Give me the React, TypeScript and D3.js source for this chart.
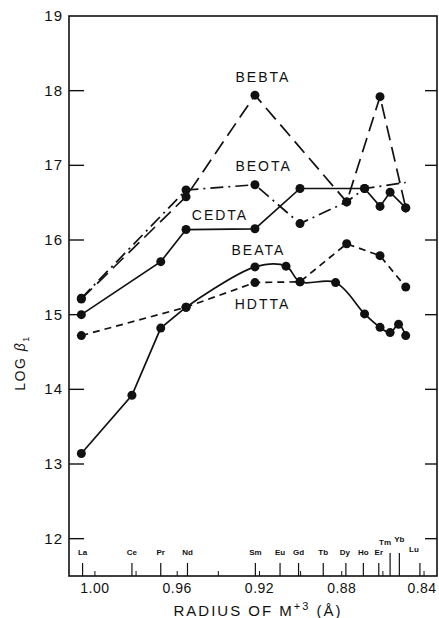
import { useEffect, useRef } from 'react'
import * as d3 from 'd3'

// lanthanide series, left (large radius) to right
const elements = ['La', 'Ce', 'Pr', 'Nd', 'Sm', 'Eu', 'Gd', 'Tb', 'Dy', 'Ho', 'Er', 'Tm', 'Yb', 'Lu']
// radius where each element's tick sits on the bottom axis
const tickRadii = [1.006, 0.982, 0.968, 0.955, 0.922, 0.910, 0.901, 0.889, 0.878, 0.8695, 0.862, 0.8565, 0.852, 0.842]
// radius where the measured points are plotted
const pointRadii = [1.0066, 0.982, 0.968, 0.9557, 0.9222, 0.9071, 0.9003, 0.883, 0.8776, 0.8689, 0.8614, 0.8565, 0.8524, 0.8489]

const bebta = [15.21, null, null, 16.58, 17.94, null, null, null, 16.51, null, 17.92, null, null, 16.43]
const beota = [15.22, null, null, 16.67, 16.74, null, 16.22, null, 16.51, 16.69, null, null, null, 16.77]
const cedta = [15.0, null, 15.71, 16.14, 16.15, null, 16.69, null, null, 16.69, 16.45, 16.64, null, 16.43]
const beata = [13.14, 13.92, 14.82, 15.1, 15.64, 15.65, 15.44, 15.43, null, 15.01, 14.83, 14.76, 14.87, 14.72]
const hdtta = [14.72, null, null, 15.1, 15.43, null, 15.44, null, 15.95, null, 15.79, null, null, 15.37]

const yTicks = [12, 13, 14, 15, 16, 17, 18, 19]
const xTicks = [1.0, 0.96, 0.92, 0.88, 0.84]
const xMinorTicks = [1.0, 0.98, 0.96, 0.94, 0.92, 0.9, 0.88, 0.86, 0.84]

export default function App() {
  const ref = useRef<SVGSVGElement>(null)

  useEffect(() => {
    const svg = d3.select(ref.current)
    svg.selectAll('*').remove()

    const left = 69, right = 437, top = 16, bottom = 576
    const font = '"Liberation Sans", Arial, sans-serif'
    const ink = '#111'

    const x = d3.scaleLinear().domain([1.0126, 0.8337]).range([left, right])
    const y = d3.scaleLinear().domain([11.5, 19]).range([bottom, top])

    // frame
    svg.append('rect')
      .attr('x', left).attr('y', top)
      .attr('width', right - left).attr('height', bottom - top)
      .attr('fill', 'none').attr('stroke', ink).attr('stroke-width', 1.6)

    // y ticks on both sides, pointing inward
    const yg = svg.append('g')
    yg.selectAll('line.l').data(yTicks.slice(0, -1)).enter().append('line')
      .attr('x1', left).attr('x2', left + 15)
      .attr('y1', d => y(d)).attr('y2', d => y(d))
      .attr('stroke', ink).attr('stroke-width', 1.4)
    yg.selectAll('line.r').data(yTicks.slice(0, -1)).enter().append('line')
      .attr('x1', right - 12).attr('x2', right)
      .attr('y1', d => y(d)).attr('y2', d => y(d))
      .attr('stroke', ink).attr('stroke-width', 1.4)
    yg.selectAll('text').data(yTicks).enter().append('text')
      .attr('x', 63).attr('y', d => y(d) + 5)
      .attr('text-anchor', 'end')
      .style('font-family', font).style('font-size', '15px').style('letter-spacing', '1px')
      .attr('fill', ink)
      .text(d => d)

    // bottom axis: minor ticks, element ticks, labels
    const xg = svg.append('g')
    xg.selectAll('line.m').data(xMinorTicks).enter().append('line')
      .attr('x1', d => x(d)).attr('x2', d => x(d))
      .attr('y1', bottom).attr('y2', bottom - 5)
      .attr('stroke', ink).attr('stroke-width', 1)
    xg.selectAll('line.e').data(elements).enter().append('line')
      .attr('x1', (d, i) => x(tickRadii[i])).attr('x2', (d, i) => x(tickRadii[i]))
      .attr('y1', bottom)
      .attr('y2', d => bottom - (d === 'Tm' || d === 'Yb' ? 23 : 13))
      .attr('stroke', ink).attr('stroke-width', 1.2)
    xg.selectAll('text.e').data(elements).enter().append('text')
      .attr('x', (d, i) => x(tickRadii[i]) + (d === 'Tm' ? -5 : d === 'Lu' ? -6 : d === 'Dy' ? -1 : 0))
      .attr('y', d => (d === 'Tm' ? 545 : d === 'Yb' ? 542 : d === 'Lu' ? 552 : 555))
      .attr('text-anchor', 'middle')
      .style('font-family', font).style('font-size', '8px').style('font-weight', 'bold')
      .attr('fill', ink)
      .text(d => d)
    xg.selectAll('text.t').data(xTicks).enter().append('text')
      .attr('x', d => x(d) + (d === 0.84 ? -2 : 0)).attr('y', 593)
      .attr('text-anchor', 'middle')
      .style('font-family', font).style('font-size', '14px').style('letter-spacing', '0.5px')
      .attr('fill', ink)
      .text(d => d.toFixed(2))

    // axis titles
    const xt = svg.append('text')
      .attr('x', 258).attr('y', 616)
      .attr('text-anchor', 'middle')
      .style('font-family', font).style('font-size', '15px').style('letter-spacing', '2px')
      .attr('fill', ink)
    xt.append('tspan').text('RADIUS OF M')
    xt.append('tspan').attr('dy', -6).style('font-size', '11px').text('+3')
    xt.append('tspan').attr('dy', 6).text(' (Å)')

    const yt = svg.append('text')
      .attr('transform', 'translate(25,363) rotate(-90)')
      .attr('text-anchor', 'middle')
      .style('font-family', font).style('font-size', '14px').style('letter-spacing', '1.5px')
      .attr('fill', ink)
    yt.append('tspan').text('LOG ')
    yt.append('tspan').style('font-style', 'italic').text('β')
    yt.append('tspan').attr('dy', 4).style('font-size', '9px').text('1')

    // series; smoothFrom = index of the first point of a hand-smoothed stretch
    const series = [
      { name: 'BEBTA', values: bebta, dash: '15,7', smoothFrom: -1, hide: [], label: [0.9183, 18.12] },
      { name: 'BEOTA', values: beota, dash: '13,5,2,5', smoothFrom: -1, hide: ['Lu'], label: [0.918, 16.93] },
      { name: 'CEDTA', values: cedta, dash: null, smoothFrom: -1, hide: [], label: [0.9392, 16.27] },
      { name: 'BEATA', values: beata, dash: null, smoothFrom: 3, hide: [], label: [0.9205, 15.8] },
      { name: 'HDTTA', values: hdtta, dash: '7,5', smoothFrom: -1, hide: [], label: [0.9185, 15.07] },
    ]

    series.forEach(s => {
      const pts = elements
        .map((e, i) => ({ e, r: pointRadii[i], v: s.values[i] }))
        .filter(p => p.v != null)

      const pieces = s.smoothFrom < 0
        ? [{ pts, curve: d3.curveLinear }]
        : [
            { pts: pts.slice(0, s.smoothFrom + 1), curve: d3.curveLinear },
            { pts: pts.slice(s.smoothFrom), curve: d3.curveCatmullRom.alpha(0.5) },
          ]

      pieces.forEach(pc => {
        const line = d3.line<any>()
          .x(p => x(p.r))
          .y(p => y(p.v))
          .curve(pc.curve)

        svg.append('path')
          .datum(pc.pts)
          .attr('d', line)
          .attr('fill', 'none')
          .attr('stroke', ink)
          .attr('stroke-width', 1.7)
          .attr('stroke-dasharray', s.dash)
      })

      svg.append('g').selectAll('circle')
        .data(pts.filter(p => !s.hide.includes(p.e)))
        .enter().append('circle')
        .attr('cx', p => x(p.r))
        .attr('cy', p => y(p.v))
        .attr('r', 4.5)
        .attr('fill', ink)

      svg.append('text')
        .attr('x', x(s.label[0])).attr('y', y(s.label[1]))
        .attr('text-anchor', 'middle')
        .style('font-family', font).style('font-size', '14px').style('letter-spacing', '2px')
        .attr('fill', ink)
        .text(s.name)
    })
  }, [])

  return (
    <svg
      ref={ref}
      width={439}
      height={618}
      style={{ position: 'absolute', left: 0, top: 0, background: '#fff' }}
    />
  )
}
